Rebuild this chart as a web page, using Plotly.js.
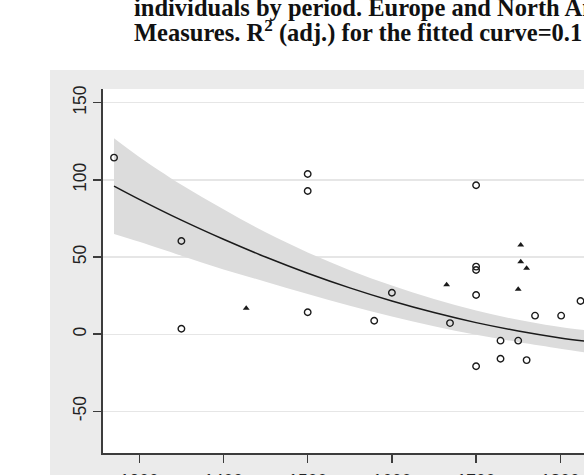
<!DOCTYPE html>
<html>
<head>
<meta charset="utf-8">
<script src="https://cdn.plot.ly/plotly-3.0.1.min.js"></script>
<style>
  html, body { margin: 0; padding: 0; overflow: hidden; background: #ffffff; }
  #chart { width: 640px; height: 500px; }
</style>
</head>
<body>
<div id="chart"></div>
<script>
// Observations: hollow circles
const circleYears  = [1270, 1350, 1350, 1500, 1500, 1500, 1579, 1600, 1669, 1700, 1700, 1700, 1700, 1700, 1729, 1729, 1750, 1760, 1770, 1801, 1824];
const circleValues = [114.4, 60.4, 3.5, 103.8, 92.8, 14.2, 8.7, 26.9, 7.2, 96.5, 43.8, 41.6, 25.4, -20.8, -4.2, -15.9, -4.2, -16.8, 12.0, 12.0, 21.5];

// Observations: filled triangles
const triangleYears  = [1427, 1665, 1750, 1753, 1753, 1760];
const triangleValues = [16.8, 32.0, 29.1, 57.8, 47.0, 42.7];

// Fitted curve and its confidence band
const fitYears   = [1270, 1300, 1350, 1400, 1450, 1500, 1550, 1600, 1650, 1700, 1750, 1800, 1830];
const fitValues  = [96.0, 87.4, 73.9, 61.5, 50.0, 39.5, 30.0, 21.5, 14.0, 7.5, 2.1, -2.4, -4.6];
const bandUpper  = [127.0, 114.9, 96.9, 81.0, 66.0, 53.0, 41.5, 31.5, 22.8, 15.3, 9.3, 4.6, 2.6];
const bandLower  = [65.0, 59.9, 50.9, 42.0, 34.0, 26.0, 18.5, 11.5, 5.2, -0.3, -5.1, -9.4, -11.8];

// Axis ticks
const xTickVals = [1300, 1400, 1500, 1600, 1700, 1800];
const yTickVals = [-50, 0, 50, 100, 150];
const yTickText = ['-50', '0', '50', '100', '150'];

// Heading lines
const titleLines = [
  "individuals by period. Europe and North America",
  "Measures. R<sup>2</sup> (adj.) for the fitted curve=0.1"
];

// Pixel frame of the figure
const W = 640, H = 500;
const M = { l: 103, r: 20, t: 89, b: 47 };
const plotW = W - M.l - M.r, plotH = H - M.t - M.b;
const px2paperX = px => (px - M.l) / plotW;
const px2paperY = py => (H - M.b - py) / plotH;

const ink = '#1a1a1a';

const traces = [
  { x: fitYears, y: bandLower, type: 'scatter', mode: 'lines',
    line: { width: 0, shape: 'spline', smoothing: 1 }, hoverinfo: 'skip', showlegend: false },
  { x: fitYears, y: bandUpper, type: 'scatter', mode: 'lines', fill: 'tonexty',
    fillcolor: '#dcdcdc', line: { width: 0, shape: 'spline', smoothing: 1 }, hoverinfo: 'skip', showlegend: false },
  { x: fitYears, y: fitValues, type: 'scatter', mode: 'lines',
    line: { color: ink, width: 1.5, shape: 'spline', smoothing: 1 }, showlegend: false },
  { x: circleYears, y: circleValues, type: 'scatter', mode: 'markers',
    marker: { symbol: 'circle-open', size: 6.5, color: ink, line: { width: 1.4, color: ink } }, showlegend: false },
  { x: triangleYears, y: triangleValues, type: 'scatter', mode: 'markers',
    marker: { symbol: 'triangle-up', size: 6, color: ink, line: { width: 0 } }, showlegend: false }
];

const tickFont = { family: 'Liberation Sans, Arial, sans-serif', size: 17.5, color: '#222222' };
const titleFont = { family: 'Liberation Serif, Times New Roman, serif', size: 24.5, color: '#111111' };

const layout = {
  width: W, height: H,
  margin: M,
  paper_bgcolor: '#ffffff',
  plot_bgcolor: 'rgba(0,0,0,0)',
  showlegend: false,
  xaxis: {
    range: [1256.9, 1870.9],
    tickmode: 'array', tickvals: xTickVals,
    ticks: 'outside', ticklen: 8, tickwidth: 1.5, tickcolor: '#3c3c3c',
    ticklabelstandoff: 3,
    showline: true, linecolor: '#3c3c3c', linewidth: 1.8,
    showgrid: false, zeroline: false,
    tickfont: tickFont
  },
  yaxis: {
    range: [-77.0, 158.9],
    tickmode: 'array', tickvals: yTickVals, ticktext: yTickText,
    tickangle: -90,
    ticks: 'outside', ticklen: 8, tickwidth: 1.5, tickcolor: '#3c3c3c',
    showline: true, linecolor: '#3c3c3c', linewidth: 1.8,
    showgrid: true, gridcolor: '#e6e6e6', gridwidth: 1.3, zeroline: false,
    tickfont: tickFont
  },
  shapes: [
    { type: 'rect', layer: 'below', xref: 'paper', yref: 'paper',
      x0: px2paperX(50), x1: 1.3, y0: -0.3, y1: px2paperY(70),
      fillcolor: '#ebebeb', line: { width: 0 } },
    { type: 'rect', layer: 'below', xref: 'paper', yref: 'paper',
      x0: 0, x1: 1, y0: 0, y1: 1,
      fillcolor: '#ffffff', line: { width: 0 } }
  ],
  annotations: [
    { text: '<b>' + titleLines[0] + '</b>', xref: 'paper', yref: 'paper',
      x: px2paperX(132), y: px2paperY(23.5), xanchor: 'left', yanchor: 'bottom',
      showarrow: false, font: titleFont },
    { text: '<b>' + titleLines[1] + '</b>', xref: 'paper', yref: 'paper',
      x: px2paperX(132), y: px2paperY(49.3), xanchor: 'left', yanchor: 'bottom',
      showarrow: false, font: titleFont }
  ]
};

Plotly.newPlot('chart', traces, layout, { displayModeBar: false, staticPlot: true });
</script>
</body>
</html>
